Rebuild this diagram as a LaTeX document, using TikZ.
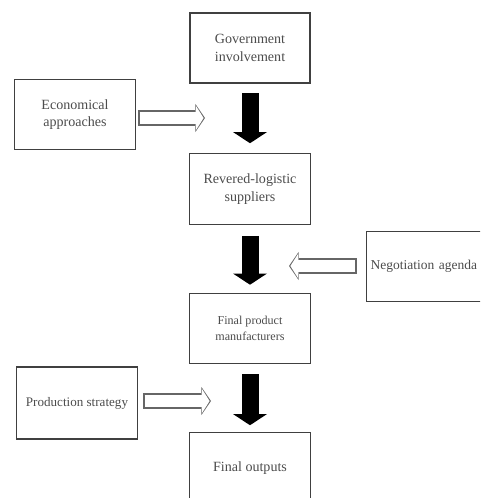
\documentclass[tikz,border=0pt]{standalone}
\usepackage{fontspec}
\setmainfont{Liberation Serif}
\usetikzlibrary{arrows.meta}
\begin{document}
\begin{tikzpicture}[x=0.025cm, y=-0.025cm,
    box/.style = {draw=black!75, line width=0.028cm, align=center, text=black!70,
                  minimum width=3.02cm, minimum height=1.76cm, inner sep=0,
                  font=\fontsize{10}{12.5}\selectfont},
    flow/.style = {line width=0.425cm, black, -{Triangle[width=0.85cm, length=0.28cm, line width=0pt]}},
    hollowout/.style = {line width=0.39cm, black!60, -{Triangle[width=0.7cm, length=0.24cm, line width=0pt]}},
    hollowin/.style = {line width=0.31cm, white, shorten <=0.04cm, shorten >=0.035cm,
                       -{Triangle[width=0.6cm, length=0.19cm, line width=0pt]}}]
    \useasboundingbox (0,0) rectangle (480,498);
    \clip (0,0) rectangle (480,498);

    \node[box, line width=0.05cm] (gov) at (250,48)    {Government\\involvement};
    \node[box]                    (eco) at (75,114.5)  {Economical\\approaches};
    \node[box]                    (rev) at (250,189)   {Revered-logistic\\suppliers};
    \node[box, anchor=west, align=left, text width=2.96cm, inner xsep=0.1cm, minimum height=1.73cm,
          font=\fontsize{9.6}{12}\selectfont] (neg) at (366,266.5) {Negotiation agenda};
    \node[box, font=\fontsize{8.6}{11.5}\selectfont] (fpm) at (250,328.5) {Final product\\manufacturers};
    \node[box, font=\fontsize{9.3}{12}\selectfont, minimum height=1.8cm] (pro) at (77,403) {Production strategy};
    \node[box]                    (out) at (250,468)   {Final outputs};

    % free ends of the side arrows
    \coordinate (ecoend) at (205,118);
    \coordinate (negend) at (289,266);
    \coordinate (proend) at (211,401);

    \draw[flow, shorten <=0.225cm, shorten >=0.25cm] (gov.south) -- (rev.north);
    \draw[flow, shorten <=0.275cm, shorten >=0.2cm]  (rev.south) -- (fpm.north);
    \draw[flow, shorten <=0.25cm, shorten >=0.175cm] (fpm.south) -- (out.north);

    \draw[hollowout] (eco.east |- ecoend) ++(2,0) -- (ecoend);
    \draw[hollowin]  (eco.east |- ecoend) ++(2,0) -- (ecoend);
    \draw[hollowout] (neg.west |- negend) ++(-9,0) -- (negend);
    \draw[hollowin]  (neg.west |- negend) ++(-9,0) -- (negend);
    \draw[hollowout] (pro.east |- proend) ++(5,0) -- (proend);
    \draw[hollowin]  (pro.east |- proend) ++(5,0) -- (proend);
  \end{tikzpicture}
\end{document}
